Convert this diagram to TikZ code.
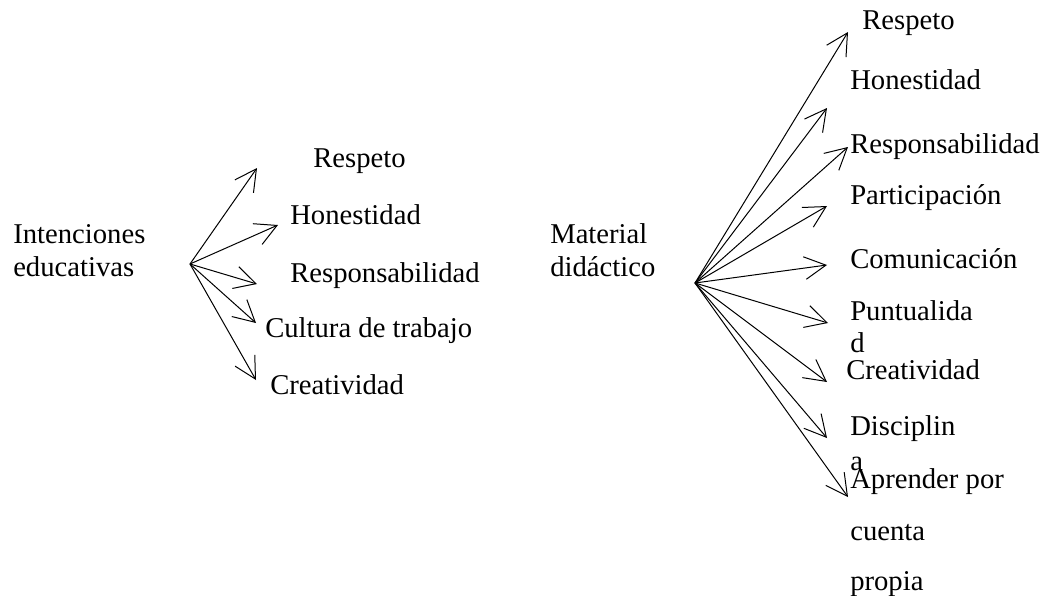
\documentclass[tikz,border=0pt]{standalone}
\usepackage{fontspec}
\setmainfont{Liberation Serif}
\usetikzlibrary{arrows.meta}
\begin{document}
\begin{tikzpicture}
	[x=0.75pt, y=-0.75pt,
	texto/.style	={anchor=base west, inner sep=0pt, align=left, font=\fontsize{21.5}{24.75}\selectfont},
	seta/.style		={-{Straight Barb[length=16pt, width=17pt]}, line width=0.75pt},]
	\useasboundingbox (0,0) rectangle (1047,596);
	% lado esquerdo
	\node[texto] (int) at (13,276)	{Intenciones\\educativas};
	\node[texto] (re1) at (313,167)	{Respeto};
	\node[texto] (ho1) at (290,224)	{Honestidad};
	\node[texto] (rs1) at (290,282)	{Responsabilidad};
	\node[texto] (cu1) at (265,337)	{Cultura de trabajo};
	\node[texto] (cr1) at (270,394)	{Creatividad};
	\coordinate (o1) at (190,264);
	\coordinate (tre1) at (257,168);
	\coordinate (tho1) at (278,225);
	\coordinate (trs1) at (257,284);
	\coordinate (tcu1) at (256,323);
	\coordinate (tcr1) at (256,380);
	\draw[seta] (o1) -- (tre1);
	\draw[seta] (o1) -- (tho1);
	\draw[seta] (o1) -- (trs1);
	\draw[seta] (o1) -- (tcu1);
	\draw[seta] (o1) -- (tcr1);
	% lado direito
	\node[texto] (mat) at (550,276)	{Material\\didáctico};
	\node[texto] (re2) at (862,30)	{Respeto};
	\node[texto] (ho2) at (850,89)	{Honestidad};
	\node[texto] (rs2) at (850,153)	{Responsabilidad};
	\node[texto] (pa2) at (850,204)	{Participación};
	\node[texto] (co2) at (850,268)	{Comunicación};
	\node[texto] (pu2) at (850,352)	{Puntualida\\[-0.75pt]d};
	\node[texto] (cr2) at (846,379)	{Creatividad};
	\node[texto] (di2) at (850,470)	{Disciplin\\[1.5pt]a};
	\node[texto] (ap2) at (850,590)	{Aprender por\\[14.25pt]cuenta\\[12.75pt]propia};
	\coordinate (o2) at (695,283);
	\coordinate (tre2) at (848,32);
	\coordinate (tho2) at (827,108);
	\coordinate (trs2) at (848,147);
	\coordinate (tpa2) at (827,206);
	\coordinate (tco2) at (827,265);
	\coordinate (tpu2) at (828,323);
	\coordinate (tcr2) at (827,382);
	\coordinate (tdi2) at (827,438);
	\coordinate (tap2) at (848,497);
	\draw[seta] (o2) -- (tre2);
	\draw[seta] (o2) -- (tho2);
	\draw[seta] (o2) -- (trs2);
	\draw[seta] (o2) -- (tpa2);
	\draw[seta] (o2) -- (tco2);
	\draw[seta] (o2) -- (tpu2);
	\draw[seta] (o2) -- (tcr2);
	\draw[seta] (o2) -- (tdi2);
	\draw[seta] (o2) -- (tap2);
\end{tikzpicture}
\end{document}
